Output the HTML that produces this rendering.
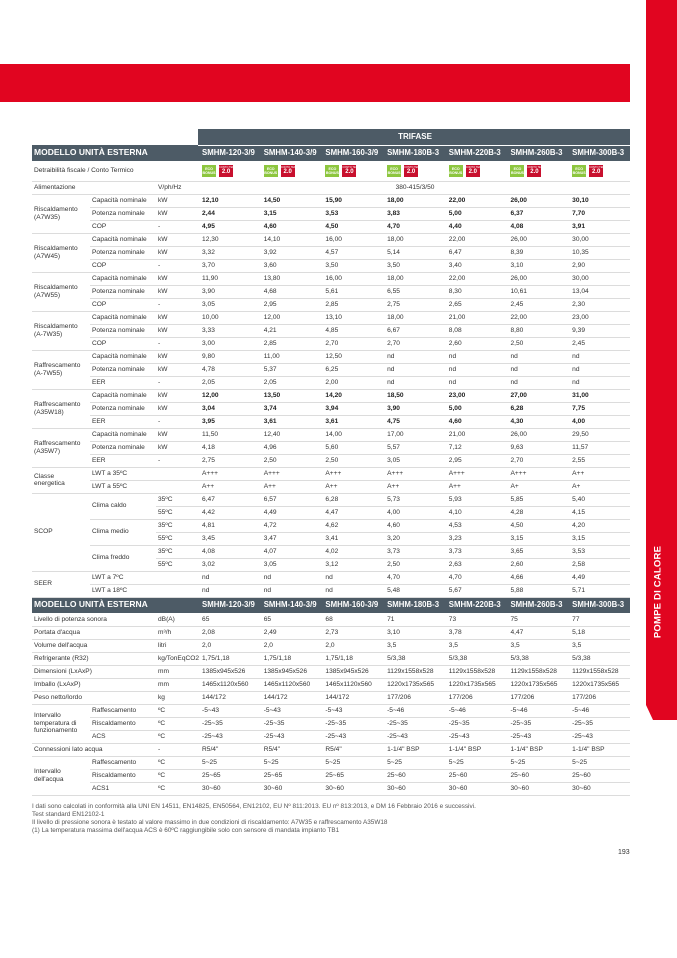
<!DOCTYPE html>
<html><head><meta charset="utf-8"><style>
*{margin:0;padding:0;box-sizing:border-box}
body{width:677px;height:958px;background:#fff;position:relative;overflow:hidden;font-family:"Liberation Sans",sans-serif;color:#333}
.banner{position:absolute;left:0;top:64px;width:630px;height:38px;background:#e10520}
.tab{position:absolute;left:646px;top:0;width:31px;height:720px;background:#e10520;clip-path:polygon(0 0,100% 0,100% 100%,7px 100%,0 705px)}
.tabt{position:absolute;left:658px;top:592px;transform:translate(-50%,-50%) rotate(-90deg);color:#fff;font-weight:bold;font-size:9.5px;white-space:nowrap;letter-spacing:0.2px}
table{position:absolute;left:32px;top:129px;width:598px;border-collapse:collapse;table-layout:fixed;font-size:6.6px}
td{height:13px;padding:0 0 0 2px;border-bottom:1px solid #dcdcdc;vertical-align:middle;white-space:nowrap;overflow:hidden;line-height:7.5px}
td.d{padding-left:4px}
tr.b td.d{font-weight:bold;color:#222}
tr.h td{background:#4d5b66;color:#fff;font-weight:bold;font-size:8px;height:16px;border-bottom:1px solid #fff}
tr.h td.d{font-size:7.8px}
tr.t td.e{background:#fff;border-bottom:none}
.eco{display:inline-block;width:14px;height:12px;background:#8dc63f;color:#fff;font-size:3.6px;font-weight:bold;text-align:center;line-height:4.5px;padding-top:1.5px;vertical-align:middle}
.ct{display:inline-block;width:14px;height:12px;background:#c8102e;color:#fff;font-size:2.6px;text-align:center;line-height:3px;margin-left:3px;vertical-align:middle;padding-top:1px}
.ct b{display:block;font-size:6px;line-height:6px}
.foot{position:absolute;left:32px;top:803px;font-size:6.4px;color:#555;line-height:8px}
.pg{position:absolute;left:618px;top:849px;font-size:7px;color:#333}
</style></head><body>
<div class="banner"></div>
<div class="tab"></div>
<div class="tabt">POMPE DI CALORE</div>
<table>
<colgroup><col style="width:58px"><col style="width:66px"><col style="width:42px"><col span="7" style="width:61.7px"></colgroup>
<tr class="h t"><td class="e" colspan="3"></td><td colspan="7" style="text-align:center;height:16px">TRIFASE</td></tr>
<tr class="h"><td colspan="3" style="font-size:8.5px">MODELLO UNITÀ ESTERNA</td><td class="d">SMHM-120-3/9</td><td class="d">SMHM-140-3/9</td><td class="d">SMHM-160-3/9</td><td class="d">SMHM-180B-3</td><td class="d">SMHM-220B-3</td><td class="d">SMHM-260B-3</td><td class="d">SMHM-300B-3</td></tr>
<tr><td colspan="3" style="height:20px">Detraibilità fiscale / Conto Termico</td>
<td class="d"><span class="eco">ECO<br>BONUS</span><span class="ct">CONTO TERMICO<b>2.0</b></span></td>
<td class="d"><span class="eco">ECO<br>BONUS</span><span class="ct">CONTO TERMICO<b>2.0</b></span></td>
<td class="d"><span class="eco">ECO<br>BONUS</span><span class="ct">CONTO TERMICO<b>2.0</b></span></td>
<td class="d"><span class="eco">ECO<br>BONUS</span><span class="ct">CONTO TERMICO<b>2.0</b></span></td>
<td class="d"><span class="eco">ECO<br>BONUS</span><span class="ct">CONTO TERMICO<b>2.0</b></span></td>
<td class="d"><span class="eco">ECO<br>BONUS</span><span class="ct">CONTO TERMICO<b>2.0</b></span></td>
<td class="d"><span class="eco">ECO<br>BONUS</span><span class="ct">CONTO TERMICO<b>2.0</b></span></td></tr>
<tr><td colspan="2">Alimentazione</td><td>V/ph/Hz</td><td colspan="7" style="text-align:center">380-415/3/50</td></tr>
<tr class="b"><td rowspan="3">Riscaldamento<br>(A7W35)</td><td>Capacità nominale</td><td>kW</td><td class="d">12,10</td><td class="d">14,50</td><td class="d">15,90</td><td class="d">18,00</td><td class="d">22,00</td><td class="d">26,00</td><td class="d">30,10</td></tr>
<tr class="b"><td>Potenza nominale</td><td>kW</td><td class="d">2,44</td><td class="d">3,15</td><td class="d">3,53</td><td class="d">3,83</td><td class="d">5,00</td><td class="d">6,37</td><td class="d">7,70</td></tr>
<tr class="b"><td>COP</td><td>-</td><td class="d">4,95</td><td class="d">4,60</td><td class="d">4,50</td><td class="d">4,70</td><td class="d">4,40</td><td class="d">4,08</td><td class="d">3,91</td></tr>
<tr><td rowspan="3">Riscaldamento<br>(A7W45)</td><td>Capacità nominale</td><td>kW</td><td class="d">12,30</td><td class="d">14,10</td><td class="d">16,00</td><td class="d">18,00</td><td class="d">22,00</td><td class="d">26,00</td><td class="d">30,00</td></tr>
<tr><td>Potenza nominale</td><td>kW</td><td class="d">3,32</td><td class="d">3,92</td><td class="d">4,57</td><td class="d">5,14</td><td class="d">6,47</td><td class="d">8,39</td><td class="d">10,35</td></tr>
<tr><td>COP</td><td>-</td><td class="d">3,70</td><td class="d">3,60</td><td class="d">3,50</td><td class="d">3,50</td><td class="d">3,40</td><td class="d">3,10</td><td class="d">2,90</td></tr>
<tr><td rowspan="3">Riscaldamento<br>(A7W55)</td><td>Capacità nominale</td><td>kW</td><td class="d">11,90</td><td class="d">13,80</td><td class="d">16,00</td><td class="d">18,00</td><td class="d">22,00</td><td class="d">26,00</td><td class="d">30,00</td></tr>
<tr><td>Potenza nominale</td><td>kW</td><td class="d">3,90</td><td class="d">4,68</td><td class="d">5,61</td><td class="d">6,55</td><td class="d">8,30</td><td class="d">10,61</td><td class="d">13,04</td></tr>
<tr><td>COP</td><td>-</td><td class="d">3,05</td><td class="d">2,95</td><td class="d">2,85</td><td class="d">2,75</td><td class="d">2,65</td><td class="d">2,45</td><td class="d">2,30</td></tr>
<tr><td rowspan="3">Riscaldamento<br>(A-7W35)</td><td>Capacità nominale</td><td>kW</td><td class="d">10,00</td><td class="d">12,00</td><td class="d">13,10</td><td class="d">18,00</td><td class="d">21,00</td><td class="d">22,00</td><td class="d">23,00</td></tr>
<tr><td>Potenza nominale</td><td>kW</td><td class="d">3,33</td><td class="d">4,21</td><td class="d">4,85</td><td class="d">6,67</td><td class="d">8,08</td><td class="d">8,80</td><td class="d">9,39</td></tr>
<tr><td>COP</td><td>-</td><td class="d">3,00</td><td class="d">2,85</td><td class="d">2,70</td><td class="d">2,70</td><td class="d">2,60</td><td class="d">2,50</td><td class="d">2,45</td></tr>
<tr><td rowspan="3">Raffrescamento<br>(A-7W55)</td><td>Capacità nominale</td><td>kW</td><td class="d">9,80</td><td class="d">11,00</td><td class="d">12,50</td><td class="d">nd</td><td class="d">nd</td><td class="d">nd</td><td class="d">nd</td></tr>
<tr><td>Potenza nominale</td><td>kW</td><td class="d">4,78</td><td class="d">5,37</td><td class="d">6,25</td><td class="d">nd</td><td class="d">nd</td><td class="d">nd</td><td class="d">nd</td></tr>
<tr><td>EER</td><td>-</td><td class="d">2,05</td><td class="d">2,05</td><td class="d">2,00</td><td class="d">nd</td><td class="d">nd</td><td class="d">nd</td><td class="d">nd</td></tr>
<tr class="b"><td rowspan="3">Raffrescamento<br>(A35W18)</td><td>Capacità nominale</td><td>kW</td><td class="d">12,00</td><td class="d">13,50</td><td class="d">14,20</td><td class="d">18,50</td><td class="d">23,00</td><td class="d">27,00</td><td class="d">31,00</td></tr>
<tr class="b"><td>Potenza nominale</td><td>kW</td><td class="d">3,04</td><td class="d">3,74</td><td class="d">3,94</td><td class="d">3,90</td><td class="d">5,00</td><td class="d">6,28</td><td class="d">7,75</td></tr>
<tr class="b"><td>EER</td><td>-</td><td class="d">3,95</td><td class="d">3,61</td><td class="d">3,61</td><td class="d">4,75</td><td class="d">4,60</td><td class="d">4,30</td><td class="d">4,00</td></tr>
<tr><td rowspan="3">Raffrescamento<br>(A35W7)</td><td>Capacità nominale</td><td>kW</td><td class="d">11,50</td><td class="d">12,40</td><td class="d">14,00</td><td class="d">17,00</td><td class="d">21,00</td><td class="d">26,00</td><td class="d">29,50</td></tr>
<tr><td>Potenza nominale</td><td>kW</td><td class="d">4,18</td><td class="d">4,96</td><td class="d">5,60</td><td class="d">5,57</td><td class="d">7,12</td><td class="d">9,63</td><td class="d">11,57</td></tr>
<tr><td>EER</td><td>-</td><td class="d">2,75</td><td class="d">2,50</td><td class="d">2,50</td><td class="d">3,05</td><td class="d">2,95</td><td class="d">2,70</td><td class="d">2,55</td></tr>
<tr><td rowspan="2">Classe<br>energetica</td><td>LWT a 35ºC</td><td></td><td class="d">A+++</td><td class="d">A+++</td><td class="d">A+++</td><td class="d">A+++</td><td class="d">A+++</td><td class="d">A+++</td><td class="d">A++</td></tr>
<tr><td>LWT a 55ºC</td><td></td><td class="d">A++</td><td class="d">A++</td><td class="d">A++</td><td class="d">A++</td><td class="d">A++</td><td class="d">A+</td><td class="d">A+</td></tr>
<tr><td rowspan="6">SCOP</td><td rowspan="2">Clima caldo</td><td>35ºC</td><td class="d">6,47</td><td class="d">6,57</td><td class="d">6,28</td><td class="d">5,73</td><td class="d">5,93</td><td class="d">5,85</td><td class="d">5,40</td></tr>
<tr><td>55ºC</td><td class="d">4,42</td><td class="d">4,49</td><td class="d">4,47</td><td class="d">4,00</td><td class="d">4,10</td><td class="d">4,28</td><td class="d">4,15</td></tr>
<tr><td rowspan="2">Clima medio</td><td>35ºC</td><td class="d">4,81</td><td class="d">4,72</td><td class="d">4,62</td><td class="d">4,60</td><td class="d">4,53</td><td class="d">4,50</td><td class="d">4,20</td></tr>
<tr><td>55ºC</td><td class="d">3,45</td><td class="d">3,47</td><td class="d">3,41</td><td class="d">3,20</td><td class="d">3,23</td><td class="d">3,15</td><td class="d">3,15</td></tr>
<tr><td rowspan="2">Clima freddo</td><td>35ºC</td><td class="d">4,08</td><td class="d">4,07</td><td class="d">4,02</td><td class="d">3,73</td><td class="d">3,73</td><td class="d">3,65</td><td class="d">3,53</td></tr>
<tr><td>55ºC</td><td class="d">3,02</td><td class="d">3,05</td><td class="d">3,12</td><td class="d">2,50</td><td class="d">2,63</td><td class="d">2,60</td><td class="d">2,58</td></tr>
<tr><td rowspan="2">SEER</td><td>LWT a 7ºC</td><td></td><td class="d">nd</td><td class="d">nd</td><td class="d">nd</td><td class="d">4,70</td><td class="d">4,70</td><td class="d">4,66</td><td class="d">4,49</td></tr>
<tr><td>LWT a 18ºC</td><td></td><td class="d">nd</td><td class="d">nd</td><td class="d">nd</td><td class="d">5,48</td><td class="d">5,67</td><td class="d">5,88</td><td class="d">5,71</td></tr>
<tr class="h"><td colspan="3" style="font-size:8.5px;height:14px">MODELLO UNITÀ ESTERNA</td><td class="d">SMHM-120-3/9</td><td class="d">SMHM-140-3/9</td><td class="d">SMHM-160-3/9</td><td class="d">SMHM-180B-3</td><td class="d">SMHM-220B-3</td><td class="d">SMHM-260B-3</td><td class="d">SMHM-300B-3</td></tr>
<tr><td colspan="2">Livello di potenza sonora</td><td>dB(A)</td><td class="d">65</td><td class="d">65</td><td class="d">68</td><td class="d">71</td><td class="d">73</td><td class="d">75</td><td class="d">77</td></tr>
<tr><td colspan="2">Portata d'acqua</td><td>m³/h</td><td class="d">2,08</td><td class="d">2,49</td><td class="d">2,73</td><td class="d">3,10</td><td class="d">3,78</td><td class="d">4,47</td><td class="d">5,18</td></tr>
<tr><td colspan="2">Volume dell'acqua</td><td>litri</td><td class="d">2,0</td><td class="d">2,0</td><td class="d">2,0</td><td class="d">3,5</td><td class="d">3,5</td><td class="d">3,5</td><td class="d">3,5</td></tr>
<tr><td colspan="2">Refrigerante (R32)</td><td style="overflow:visible">kg/TonEqCO2</td><td class="d">1,75/1,18</td><td class="d">1,75/1,18</td><td class="d">1,75/1,18</td><td class="d">5/3,38</td><td class="d">5/3,38</td><td class="d">5/3,38</td><td class="d">5/3,38</td></tr>
<tr><td colspan="2">Dimensioni (LxAxP)</td><td>mm</td><td class="d">1385x945x526</td><td class="d">1385x945x526</td><td class="d">1385x945x526</td><td class="d">1129x1558x528</td><td class="d">1129x1558x528</td><td class="d">1129x1558x528</td><td class="d">1129x1558x528</td></tr>
<tr><td colspan="2">Imballo (LxAxP)</td><td>mm</td><td class="d">1465x1120x560</td><td class="d">1465x1120x560</td><td class="d">1465x1120x560</td><td class="d">1220x1735x565</td><td class="d">1220x1735x565</td><td class="d">1220x1735x565</td><td class="d">1220x1735x565</td></tr>
<tr><td colspan="2">Peso netto/lordo</td><td>kg</td><td class="d">144/172</td><td class="d">144/172</td><td class="d">144/172</td><td class="d">177/206</td><td class="d">177/206</td><td class="d">177/206</td><td class="d">177/206</td></tr>
<tr><td rowspan="3">Intervallo<br>temperatura di<br>funzionamento</td><td>Raffescamento</td><td>ºC</td><td class="d">-5~43</td><td class="d">-5~43</td><td class="d">-5~43</td><td class="d">-5~46</td><td class="d">-5~46</td><td class="d">-5~46</td><td class="d">-5~46</td></tr>
<tr><td>Riscaldamento</td><td>ºC</td><td class="d">-25~35</td><td class="d">-25~35</td><td class="d">-25~35</td><td class="d">-25~35</td><td class="d">-25~35</td><td class="d">-25~35</td><td class="d">-25~35</td></tr>
<tr><td>ACS</td><td>ºC</td><td class="d">-25~43</td><td class="d">-25~43</td><td class="d">-25~43</td><td class="d">-25~43</td><td class="d">-25~43</td><td class="d">-25~43</td><td class="d">-25~43</td></tr>
<tr><td colspan="2">Connessioni lato acqua</td><td>-</td><td class="d">R5/4"</td><td class="d">R5/4"</td><td class="d">R5/4"</td><td class="d">1-1/4" BSP</td><td class="d">1-1/4" BSP</td><td class="d">1-1/4" BSP</td><td class="d">1-1/4" BSP</td></tr>
<tr><td rowspan="3">Intervallo<br>dell'acqua</td><td>Raffescamento</td><td>ºC</td><td class="d">5~25</td><td class="d">5~25</td><td class="d">5~25</td><td class="d">5~25</td><td class="d">5~25</td><td class="d">5~25</td><td class="d">5~25</td></tr>
<tr><td>Riscaldamento</td><td>ºC</td><td class="d">25~65</td><td class="d">25~65</td><td class="d">25~65</td><td class="d">25~60</td><td class="d">25~60</td><td class="d">25~60</td><td class="d">25~60</td></tr>
<tr><td>ACS1</td><td>ºC</td><td class="d">30~60</td><td class="d">30~60</td><td class="d">30~60</td><td class="d">30~60</td><td class="d">30~60</td><td class="d">30~60</td><td class="d">30~60</td></tr>
</table>
<div class="foot">I dati sono calcolati in conformità alla UNI EN 14511, EN14825, EN50564, EN12102, EU Nº 811:2013. EU nº 813:2013, e DM 16 Febbraio 2016 e successivi.<br>Test standard EN12102-1<br>Il livello di pressione sonora è testato al valore massimo in due condizioni di riscaldamento: A7W35 e raffrescamento A35W18<br>(1) La temperatura massima dell'acqua ACS è 60ºC raggiungibile solo con sensore di mandata impianto TB1</div>
<div class="pg">193</div>
</body></html>
